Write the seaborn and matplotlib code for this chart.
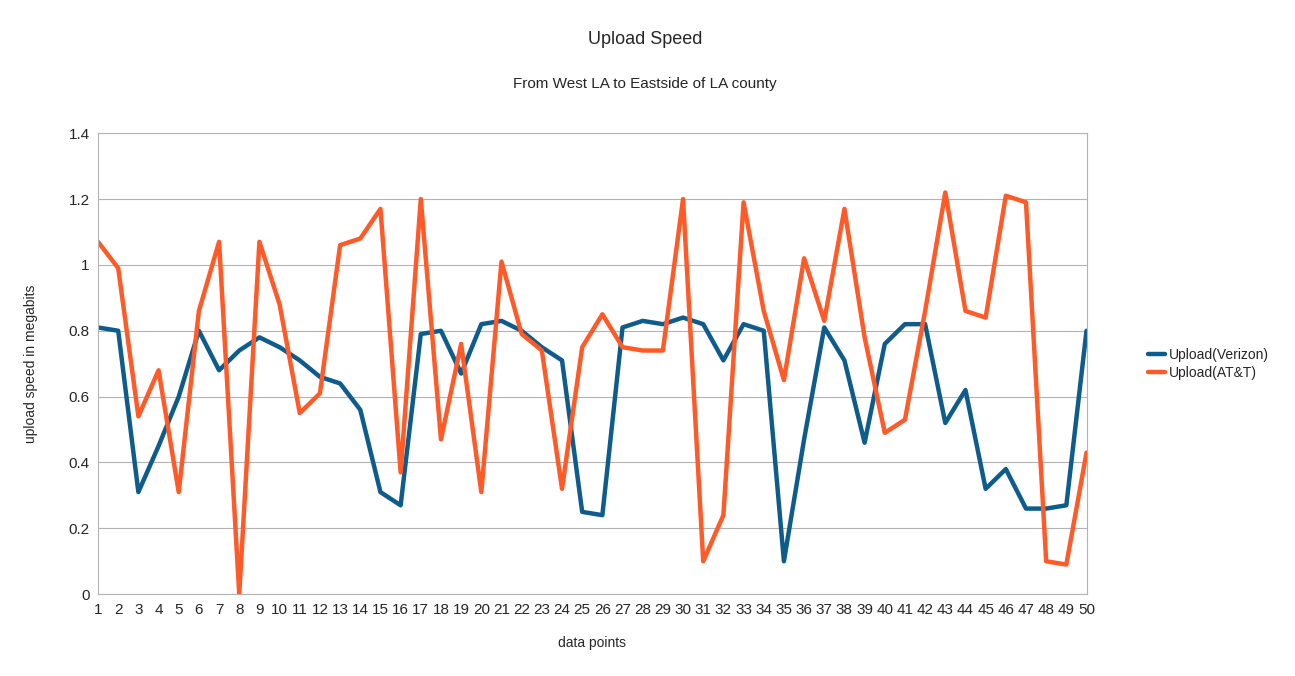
import matplotlib
matplotlib.use("Agg")
import matplotlib.pyplot as plt
import seaborn as sns
import pandas as pd

points = list(range(1, 51))
verizon = [0.81,0.80,0.31,0.45,0.60,0.80,0.68,0.74,0.78,0.75,0.71,0.66,0.64,0.56,0.31,0.27,0.79,0.80,0.67,0.82,
           0.83,0.80,0.75,0.71,0.25,0.24,0.81,0.83,0.82,0.84,0.82,0.71,0.82,0.80,0.10,0.47,0.81,0.71,0.46,0.76,
           0.82,0.82,0.52,0.62,0.32,0.38,0.26,0.26,0.27,0.80]
att = [1.07,0.99,0.54,0.68,0.31,0.86,1.07,0.00,1.07,0.88,0.55,0.61,1.06,1.08,1.17,0.37,1.20,0.47,0.76,0.31,
       1.01,0.79,0.74,0.32,0.75,0.85,0.75,0.74,0.74,1.20,0.10,0.24,1.19,0.86,0.65,1.02,0.83,1.17,0.78,0.49,
       0.53,0.86,1.22,0.86,0.84,1.21,1.19,0.10,0.09,0.43]
series_names = ["Upload(Verizon)", "Upload(AT&T)"]
colors = ["#0e5c8c", "#ff5a28"]

sns.set_style("white")
plt.rcParams['font.family'] = ['Liberation Sans', 'DejaVu Sans']
df = pd.DataFrame({"x": points * 2, "y": verizon + att,
                   "s": [series_names[0]] * 50 + [series_names[1]] * 50})

fig = plt.figure(figsize=(12.95, 6.76), dpi=100)
ax = fig.add_axes([0.0757, 0.121, 0.7633, 0.682])
sns.lineplot(data=df, x="x", y="y", hue="s", palette=colors, linewidth=3.2, ax=ax)
ax.set_xlim(1, 50)
ax.set_ylim(0, 1.4)
ax.set_xticks(points)
ax.set_xticklabels([str(p) for p in points], fontsize=11)
ax.set_yticks([0, 0.2, 0.4, 0.6, 0.8, 1, 1.2, 1.4])
ax.set_yticklabels(["0", "0.2", "0.4", "0.6", "0.8", "1", "1.2", "1.4"], fontsize=11)
ax.yaxis.grid(True, color="#b3b3b3", linewidth=0.8)
ax.set_axisbelow(True)
for sp in ax.spines.values():
    sp.set_color("#b3b3b3")
ax.tick_params(length=0, pad=6)
ax.set_xlabel("data points", fontsize=10, labelpad=14)
ax.set_ylabel("upload speed in megabits", fontsize=10, labelpad=22)
fig.text(0.498, 0.941, "Upload Speed", ha="center", va="center", fontsize=13)
fig.text(0.498, 0.876, "From West LA to Eastside of LA county", ha="center", va="center", fontsize=11)
ax.legend(loc="center left", bbox_to_anchor=(1.05, 0.5), frameon=False, fontsize=10,
          handlelength=1.2, handletextpad=0.3, labelspacing=0.3)
fig.savefig("out.png", dpi=100)
